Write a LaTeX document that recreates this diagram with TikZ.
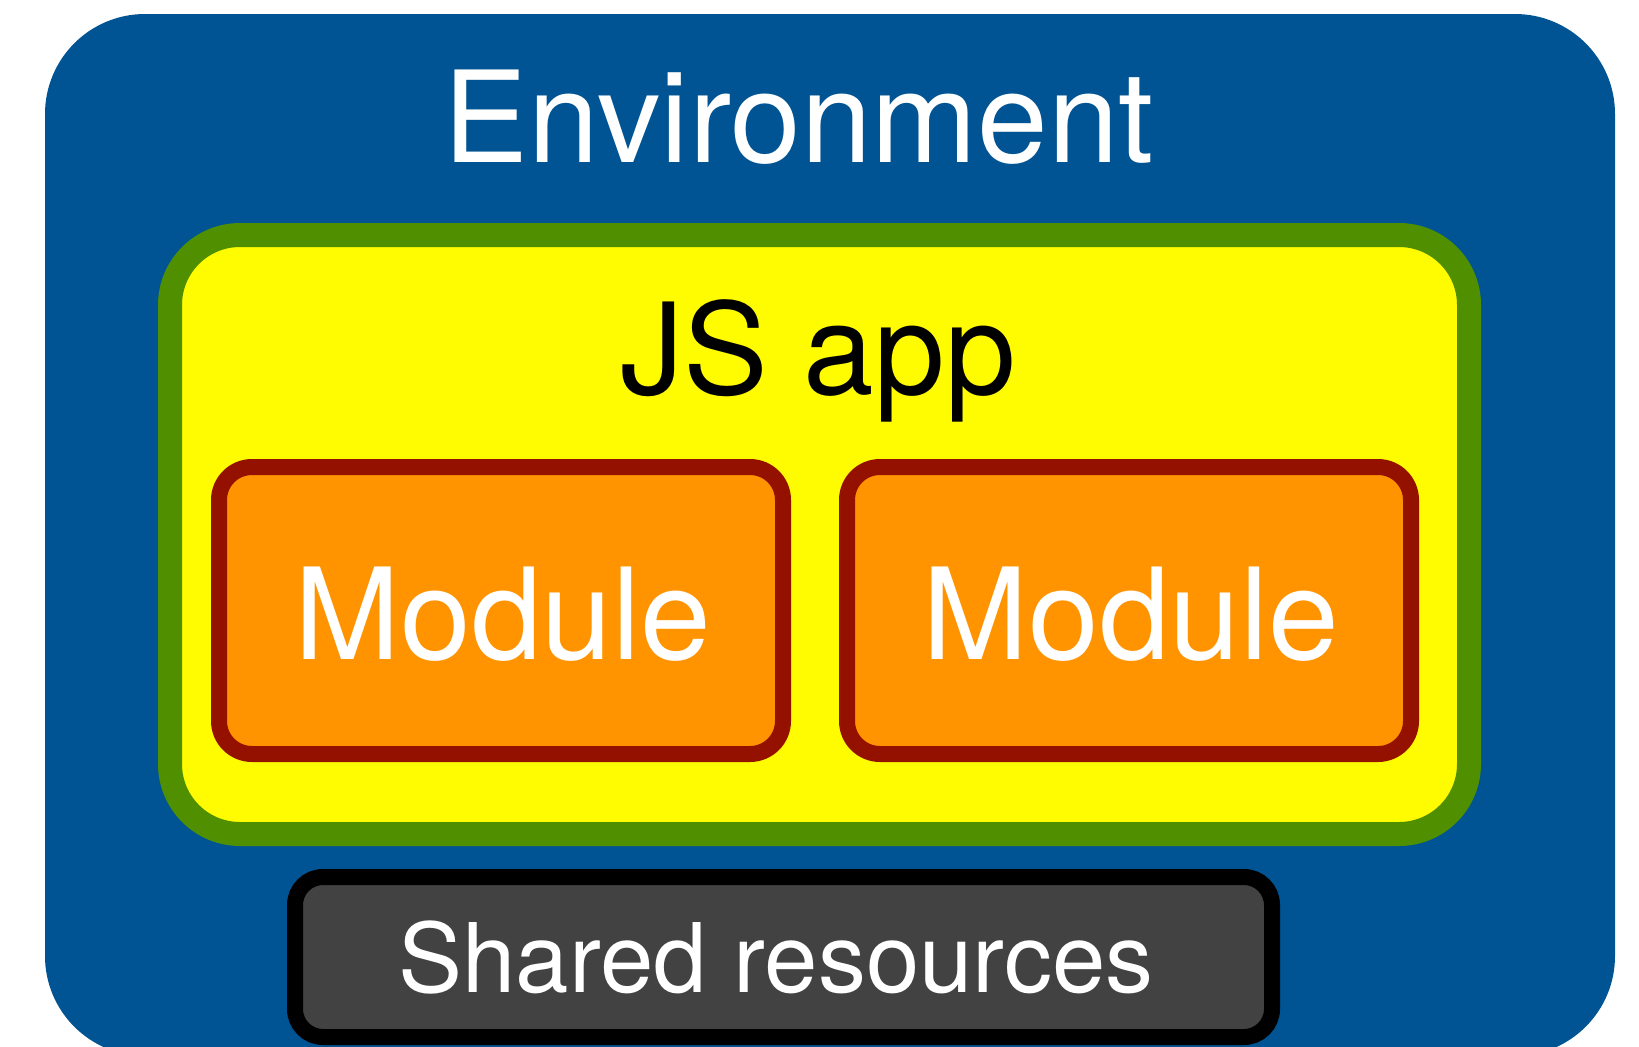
\documentclass[tikz,border=0pt]{standalone}
\usepackage{fontspec}
\setmainfont{TeX Gyre Heros}
\definecolor{envblue}{HTML}{005493}
\definecolor{appgreen}{HTML}{4F8F00}
\definecolor{appyellow}{HTML}{FFFB00}
\definecolor{modorange}{HTML}{FF9300}
\definecolor{modred}{HTML}{941100}
\definecolor{resgray}{HTML}{424242}
\tikzset{
  envbox/.style={rectangle, fill=envblue, rounded corners=100pt, inner sep=0pt,
    minimum width=1570pt, minimum height=1042pt},
  appbox/.style={rectangle, draw=appgreen, fill=appyellow, line width=24pt,
    rounded corners=70pt, inner sep=0pt, minimum width=1299pt, minimum height=599pt},
  modbox/.style={rectangle, draw=modred, fill=modorange, line width=16pt,
    rounded corners=33pt, inner sep=0pt, minimum width=564pt, minimum height=287pt},
  resbox/.style={rectangle, draw=black, fill=resgray, line width=16pt,
    rounded corners=28pt, inner sep=0pt, minimum width=977pt, minimum height=160pt},
  bigtext/.style={inner sep=0pt, anchor=base, font=\fontsize{127}{130}\selectfont},
  midtext/.style={inner sep=0pt, anchor=base, font=\fontsize{96}{100}\selectfont},
}
\begin{document}
\begin{tikzpicture}[x=1pt, y=-1pt]
\clip (0,0) rectangle (1639,1047);
\node[envbox] (env) at (830,535) {};
\node[appbox] (app) at (819.5,534.5) {};
\node[modbox] (modA) at (501,610.5) {};
\node[modbox] (modB) at (1129,610.5) {};
\node[resbox] (res) at (783.5,957) {};
\node[bigtext, text=white] (envlabel) at (799,162) {Environment};
\node[bigtext, text=black] (applabel) at (818,394) {JS app};
\node[bigtext, text=white] (modAlabel) at (503,659) {Module};
\node[bigtext, text=white] (modBlabel) at (1131,659) {Module};
\node[midtext, text=white] (reslabel) at (776,992) {Shared resources};
\end{tikzpicture}
\end{document}
